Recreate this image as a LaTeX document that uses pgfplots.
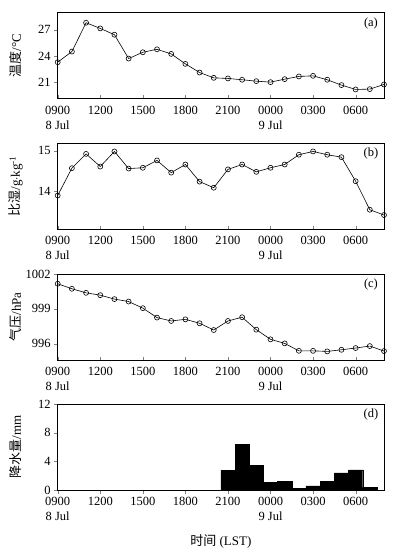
\documentclass[border=0pt]{standalone}
\usepackage{fontspec}
\setmainfont{Liberation Serif}
\newfontfamily\cjk{Noto Sans CJK SC}
\usepackage{pgfplots}
\pgfplotsset{compat=1.18}

\pgfplotstableread{
h  T      q      p
0  23.28  13.90  1001.16
1  24.50  14.57  1000.73
2  27.80  14.92  1000.38
3  27.15  14.61  1000.18
4  26.43  14.98  999.84
5  23.70  14.56  999.63
6  24.42  14.58  999.06
7  24.76  14.76  998.25
8  24.23  14.46  997.96
9  23.09  14.66  998.10
10 22.10  14.24  997.76
11 21.49  14.09  997.18
12 21.42  14.54  997.96
13 21.27  14.66  998.28
14 21.11  14.48  997.21
15 21.00  14.58  996.38
16 21.34  14.66  996.03
17 21.65  14.90  995.39
18 21.72  14.98  995.39
19 21.27  14.90  995.34
20 20.66  14.84  995.48
21 20.16  14.25  995.63
22 20.20  13.55  995.80
23 20.73  13.42  995.37
}\met

\pgfplotstableread{
h  r
12 2.78
13 6.39
14 3.47
15 1.02
16 1.25
17 0.23
18 0.56
19 1.16
20 2.40
21 2.82
22 0.37
}\rain

\pgfplotsset{
  panel/.style={
    scale only axis, width=326.3pt, height=86pt, anchor=north west,
    xmin=0, xmax=23, xtick={0,3,...,21},
    xticklabels={{0900\\8 Jul},1200,1500,1800,2100,{0000\\9 Jul},0300,0600},
    xticklabel style={align=center, font=\fontsize{12.5}{15}\selectfont},
    yticklabel style={font=\fontsize{12.5}{14}\selectfont},
    /pgf/number format/assume math mode=true,
    /pgf/number format/set thousands separator={},
    tick pos=left,
    tick align=outside,
    major tick length=3.5pt,
    axis line style={line width=0.8pt},
    ylabel style={at={(axis description cs:-0.128,0.5)}, anchor=center, font=\fontsize{13}{15}\selectfont},
    clip=false,
  },
  xin/.style={x tick style={yshift=3.5pt}},
  ln/.style={black, line width=0.6pt, mark=o, mark size=2.5pt, mark options={fill=white, line width=0.6pt}},
}

\begin{document}
\begin{tikzpicture}
\useasboundingbox (0pt,0pt) rectangle (399pt,-558pt);

\begin{axis}[panel, xin, at={(57.7pt,-12.7pt)}, ymin=19.1, ymax=28.95, ytick={21,24,27},
  ylabel={{\cjk 温度}/°C}]
\addplot[ln] table[x=h,y=T]{\met};
\node[font=\fontsize{12.5}{14}\selectfont] at (rel axis cs:0.96,0.88) {(a)};
\end{axis}

\begin{axis}[panel, xin, at={(57.7pt,-143.3pt)}, ymin=13.07, ymax=15.18, ytick={14,15},
  ylabel={{\cjk 比湿}/g$\cdot$kg\textsuperscript{-1}}]
\addplot[ln] table[x=h,y=q]{\met};
\node[font=\fontsize{12.5}{14}\selectfont] at (rel axis cs:0.96,0.88) {(b)};
\end{axis}

\begin{axis}[panel, xin, at={(57.7pt,-274pt)}, ymin=994.6, ymax=1002, ytick={996,999,1002},
  ylabel={{\cjk 气压}/hPa}]
\addplot[ln] table[x=h,y=p]{\met};
\node[font=\fontsize{12.5}{14}\selectfont] at (rel axis cs:0.96,0.88) {(c)};
\end{axis}

\begin{axis}[panel, at={(57.7pt,-404pt)}, ymin=0, ymax=12, ytick={0,4,8,12},
  ylabel={{\cjk 降水量}/mm},
  xlabel={{\cjk 时间} (LST)},
  xlabel style={at={(axis description cs:0.5,-0.596)}, anchor=center, font=\fontsize{13}{15}\selectfont}]
\addplot[ybar, bar width=1, fill=black, draw=black] table[x=h,y=r]{\rain};
\node[font=\fontsize{12.5}{14}\selectfont] at (rel axis cs:0.96,0.88) {(d)};
\end{axis}
\end{tikzpicture}
\end{document}
